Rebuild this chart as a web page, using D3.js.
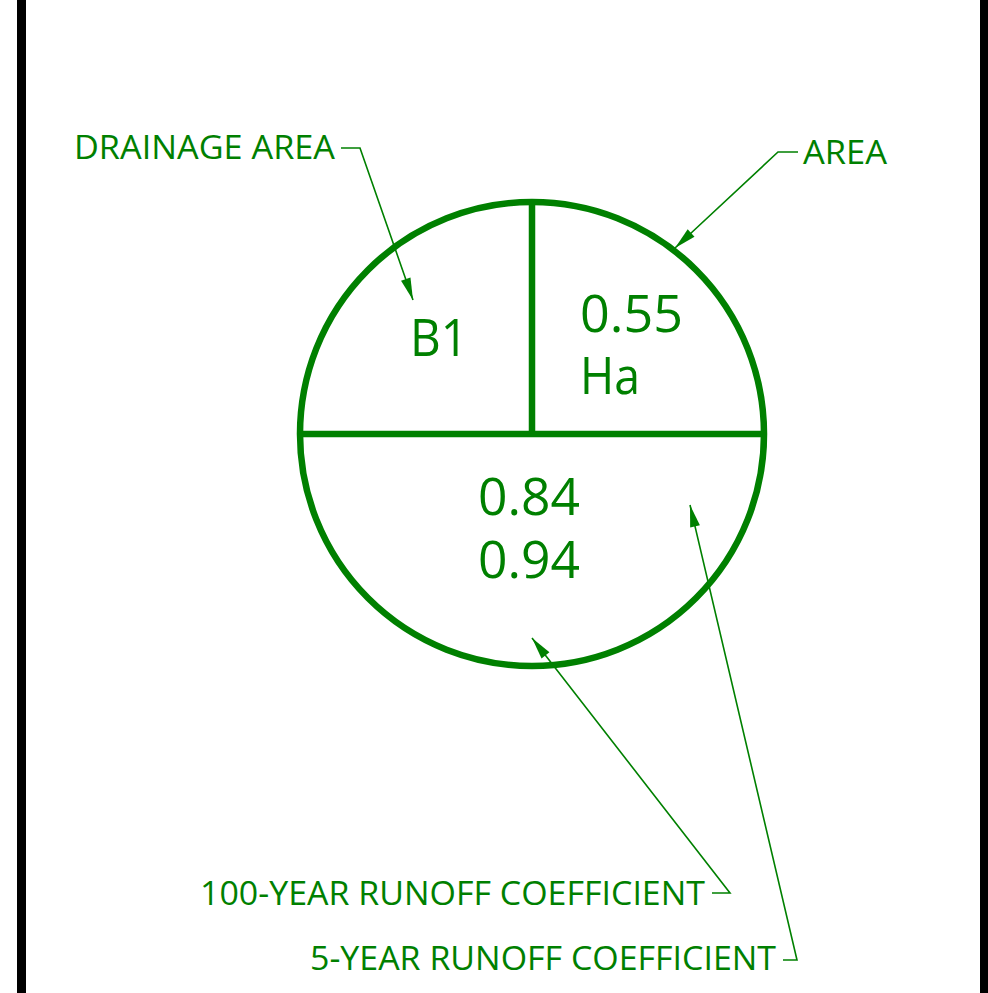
<!DOCTYPE html>
<html>
<head>
<meta charset="utf-8">
<script src="https://cdn.jsdelivr.net/npm/d3@7"></script>
<style>
  html, body { margin: 0; padding: 0; background: #fff; }
  svg { display: block; }
  text { font-family: "Open Sans", "Noto Sans", sans-serif; fill: #008000; }
</style>
</head>
<body>
<script>
// drainage area tag values
const areaId = "B1";
const areaValue = ["0.55", "Ha"];
const runoffCoefficients = ["0.84", "0.94"];
// callout labels
const calloutLabels = ["DRAINAGE AREA", "AREA", "100-YEAR RUNOFF COEFFICIENT", "5-YEAR RUNOFF COEFFICIENT"];

const w = 988;
const h = 993;
const green = "#008000";

const svg = d3.select("body")
    .append("svg")
    .attr("width", w)
    .attr("height", h);

// frame bars left and right
svg.append("rect").attr("x", 17).attr("y", 0).attr("width", 9).attr("height", h).attr("fill", "#000");
svg.append("rect").attr("x", 980).attr("y", 0).attr("width", 8).attr("height", h).attr("fill", "#000");

// unit circle coordinates -> pixels
const xScale = d3.scaleLinear().domain([-1, 1]).range([300, 764]);
const yScale = d3.scaleLinear().domain([1, -1]).range([202, 666]);

const g = svg.append("g");

// circle
g.append("circle")
    .attr("cx", xScale(0))
    .attr("cy", yScale(0))
    .attr("r", xScale(1) - xScale(0))
    .attr("fill", "none")
    .attr("stroke", green)
    .attr("stroke-width", 6.5);

// dividers
g.append("line")
    .attr("x1", xScale(-1)).attr("x2", xScale(1))
    .attr("y1", yScale(0)).attr("y2", yScale(0))
    .attr("stroke", green).attr("stroke-width", 6.5);
g.append("line")
    .attr("x1", xScale(0)).attr("x2", xScale(0))
    .attr("y1", yScale(1)).attr("y2", yScale(0))
    .attr("stroke", green).attr("stroke-width", 6.5);

// values inside the circle
const big = 52;
function bigText(str, x, y, len) {
    g.append("text")
        .attr("x", x).attr("y", y)
        .attr("font-size", big)
        .attr("textLength", len)
        .attr("lengthAdjust", "spacingAndGlyphs")
        .text(str);
}
bigText(areaId, 410, 356, 58);
bigText(areaValue[0], 580, 332, 103);
bigText(areaValue[1], 580, 394, 60);
bigText(runoffCoefficients[0], 478, 515, 102);
bigText(runoffCoefficients[1], 478, 578, 102);

// callouts: label position, leader points (from label to arrow tip)
const callouts = [
    { x: 74, y: 159, len: 261, pts: [[341, 148], [360, 148], [413, 300]] },
    { x: 803, y: 164, len: 84, pts: [[798, 152], [778, 152], [675, 248]] },
    { x: 200, y: 905, len: 505, pts: [[712, 893], [730, 893], [532, 638]] },
    { x: 310, y: 970, len: 466, pts: [[783, 960], [797, 960], [690, 505]] }
];

const line = d3.line();

callouts.forEach((c, i) => {
    g.append("text")
        .attr("x", c.x).attr("y", c.y)
        .attr("font-size", 32)
        .attr("textLength", c.len)
        .attr("lengthAdjust", "spacingAndGlyphs")
        .text(calloutLabels[i]);

    g.append("path")
        .attr("d", line(c.pts))
        .attr("fill", "none")
        .attr("stroke", green)
        .attr("stroke-width", 1.6);

    // arrow head at the last point
    const [x0, y0] = c.pts[c.pts.length - 2];
    const [x1, y1] = c.pts[c.pts.length - 1];
    const a = Math.atan2(y1 - y0, x1 - x0);
    const L = 22, W = 5;
    const bx = x1 - L * Math.cos(a), by = y1 - L * Math.sin(a);
    const px = -Math.sin(a) * W, py = Math.cos(a) * W;
    g.append("path")
        .attr("d", line([[x1, y1], [bx + px, by + py], [bx - px, by - py]]) + "Z")
        .attr("fill", green);
});
</script>
</body>
</html>
